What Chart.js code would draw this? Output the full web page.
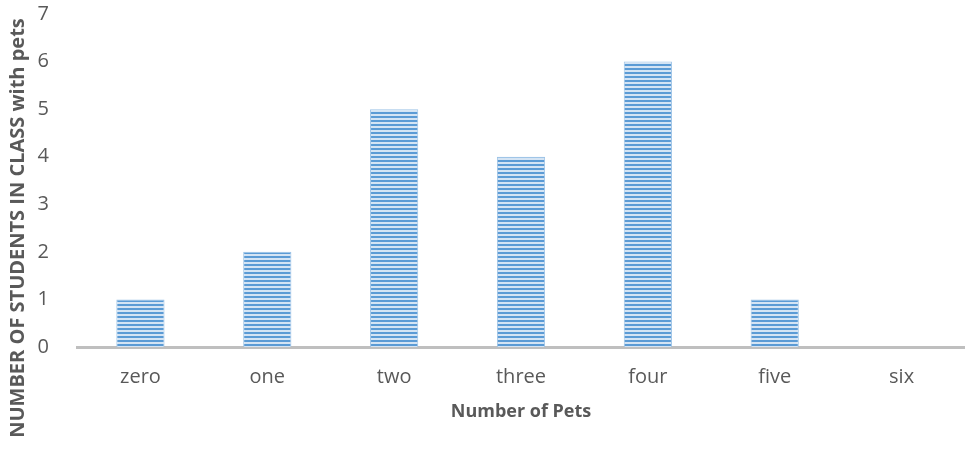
<!DOCTYPE html>
<html>
<head>
<meta charset="utf-8">
<script src="https://cdn.jsdelivr.net/npm/chart.js@4"></script>
<style>
  html, body { margin: 0; padding: 0; background: #fff; }
  #wrap { width: 965px; height: 456px; }
</style>
</head>
<body>
<div id="wrap"><canvas id="petsChart" width="965" height="456"></canvas></div>
<script>
var categories = ['zero', 'one', 'two', 'three', 'four', 'five', 'six'];
var students = [1, 2, 5, 4, 6, 1, 0];
var yTicks = [0, 1, 2, 3, 4, 5, 6, 7];
var yTitle = 'NUMBER OF STUDENTS IN CLASS with pets';

// horizontal stripe fill like the original
function stripes() {
    var c = document.createElement('canvas');
    c.width = 4;
    c.height = 4;
    var ctx = c.getContext('2d');
    ctx.fillStyle = '#d4e4f4';
    ctx.fillRect(0, 0, 4, 4);
    ctx.fillStyle = '#5b9bd5';
    ctx.fillRect(0, 0, 4, 2);
    return ctx.createPattern(c, 'repeat');
}

var labelColor = '#595959';
var font = '"Open Sans", sans-serif';

// y title centred on the whole canvas, not just the plot area
var sideTitle = {
    id: 'sideTitle',
    afterDraw: function (chart) {
        var ctx = chart.ctx;
        ctx.save();
        ctx.translate(18, chart.height / 2);
        ctx.rotate(-Math.PI / 2);
        ctx.font = 'bold 20px ' + font;
        ctx.fillStyle = labelColor;
        ctx.textAlign = 'center';
        ctx.textBaseline = 'middle';
        ctx.fillText(yTitle, 0, 0);
        ctx.restore();
    }
};

new Chart(document.getElementById('petsChart'), {
    type: 'bar',
    data: {
        labels: categories,
        datasets: [{
            data: students,
            backgroundColor: stripes(),
            borderColor: '#9dc3e6',
            borderWidth: 1,
            categoryPercentage: 1,
            barPercentage: 0.38
        }]
    },
    options: {
        responsive: false,
        animation: false,
        layout: { padding: 0 },
        plugins: { legend: { display: false }, tooltip: { enabled: false } },
        scales: {
            x: {
                afterFit: function (axis) { axis.height = 109; },
                grid: { display: false, drawTicks: false },
                border: { color: '#bfbfbf', width: 3 },
                ticks: { color: labelColor, font: { family: font, size: 20 }, padding: 18 },
                title: {
                    display: true,
                    text: 'Number of Pets',
                    color: labelColor,
                    font: { family: font, size: 18, weight: 'bold' },
                    padding: { top: 0, bottom: 33 }
                }
            },
            y: {
                min: 0,
                max: 7,
                afterFit: function (axis) {
                    axis.width = 77;
                    axis.paddingTop = 14;
                    axis.paddingBottom = 10;
                },
                afterBuildTicks: function (axis) {
                    axis.ticks = yTicks.map(function (v) { return { value: v }; });
                },
                grid: { display: false, drawTicks: false },
                border: { display: false },
                ticks: { color: labelColor, font: { family: font, size: 20 }, padding: 28 }
            }
        }
    },
    plugins: [sideTitle]
});
</script>
</body>
</html>
